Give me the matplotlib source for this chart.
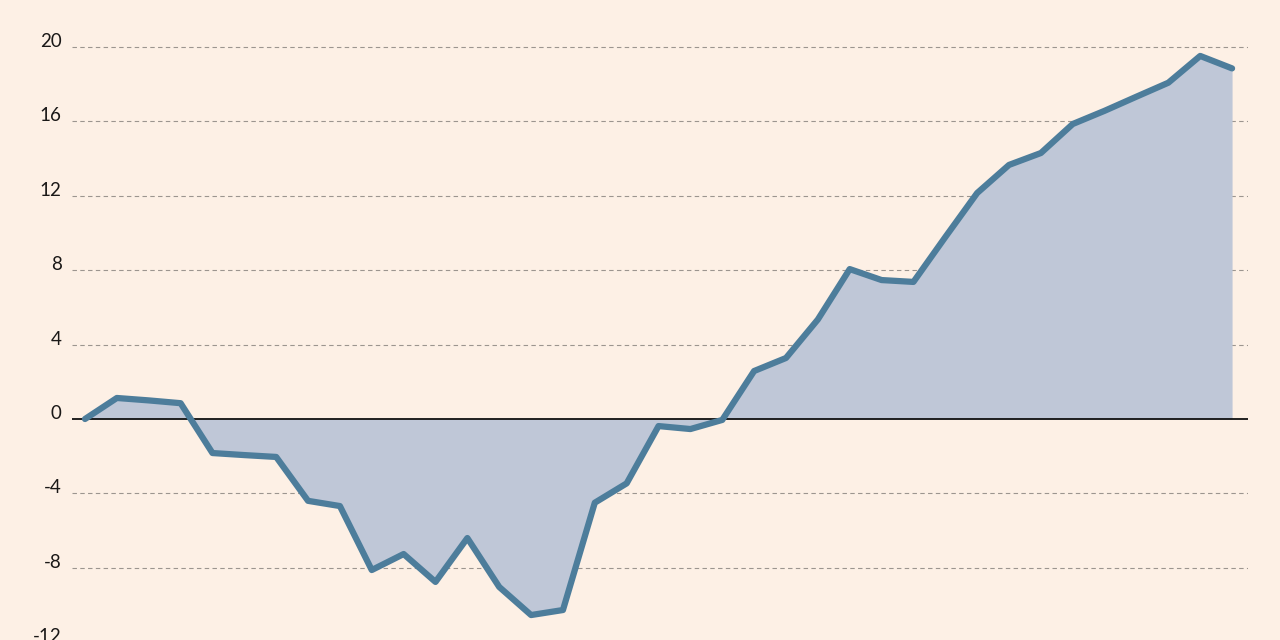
import matplotlib.pyplot as plt

# values (one point per period)
periods = list(range(37))
values = [0.0, 1.13, 1.0, 0.85, -1.83, -1.94, -2.04, -4.4, -4.68, -8.12,
          -7.26, -8.76, -6.4, -9.03, -10.54, -10.27, -4.5, -3.46, -0.38, -0.54,
          -0.05, 2.58, 3.28, 5.35, 8.06, 7.47, 7.37, 9.78, 12.15, 13.66,
          14.3, 15.86, 16.57, 17.33, 18.08, 19.52, 18.85]
yticks = [-12, -8, -4, 0, 4, 8, 12, 16, 20]
ytick_labels = ['-12', '-8', '-4', '0', '4', '8', '12', '16', '20']

bg = '#fdf0e5'
line_col = '#4d7d9b'
fill_col = '#bfc7d7'
text_col = '#1a1817'

plt.rcParams['font.family'] = ['Lato', 'DejaVu Sans']

fig = plt.figure(figsize=(12.8, 6.4), dpi=100, facecolor=bg)
# axes runs a little below the bottom edge, like the cropped original
ax = fig.add_axes([72 / 1280, 1 - 651.5 / 640, 1176 / 1280, (651.5 - 28.4) / 640])
ax.set_facecolor(bg)

ax.fill_between(periods, values, 0, color=fill_col, linewidth=0, zorder=1)
ax.axhline(0, color='#111111', linewidth=1.3, zorder=2)
ax.plot(periods, values, color=line_col, linewidth=4.5,
        solid_joinstyle='round', solid_capstyle='round', zorder=3)

ax.set_xlim(-0.408, 36.5)
ax.set_ylim(-12.5, 21)

ax.set_yticks(yticks)
ax.set_yticklabels(ytick_labels, fontsize=13.5, color=text_col)
for lab in ax.get_yticklabels():
    lab.set_verticalalignment('baseline')
ax.tick_params(axis='y', length=0, pad=7.5)
ax.set_xticks([])

for y in yticks:
    if y != 0:
        ax.axhline(y, color='#9c958f', linewidth=0.8, linestyle=(0, (4, 3)), zorder=0.5)

for s in ax.spines.values():
    s.set_visible(False)

fig.savefig('out.png', dpi=100, facecolor=bg)
